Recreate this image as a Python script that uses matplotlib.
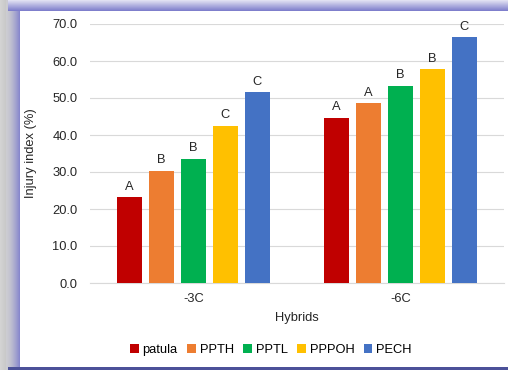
import numpy as np
import matplotlib
matplotlib.use("Agg")
import matplotlib.pyplot as plt

categories = ["-3C", "-6C"]
series = ["patula", "PPTH", "PPTL", "PPPOH", "PECH"]
values = {
    "patula": [23.2, 44.7],
    "PPTH": [30.3, 48.6],
    "PPTL": [33.6, 53.3],
    "PPPOH": [42.5, 57.8],
    "PECH": [51.5, 66.5],
}
letters = {
    "patula": ["A", "A"],
    "PPTH": ["B", "A"],
    "PPTL": ["B", "B"],
    "PPPOH": ["C", "B"],
    "PECH": ["C", "C"],
}
colors = ["#C00000", "#ED7D31", "#00B050", "#FFC000", "#4472C4"]
yticks = [0, 10, 20, 30, 40, 50, 60, 70]

plt.rcParams['font.family'] = ['Liberation Sans', 'DejaVu Sans']
FS = 9.3

W, H = 508, 370
fig = plt.figure(figsize=(W / 100, H / 100), dpi=100)

# background frame image
img = np.ones((H, W, 3)) * 0.80
for c in range(W):
    t = min(c / 10.0, 1.0)
    img[:, c, :] = np.array([0.78, 0.78, 0.78]) * (1 - 0.1 * t) + 0.05
# left purple band
for c in range(6, 20):
    t = ((c - 6) / 14.0) ** 1.5
    base = np.array([0.80, 0.80, 0.82])
    purp = np.array([0.50, 0.50, 0.80])
    img[:, c, :] = base * (1 - t) + purp * t
# top purple band
for r in range(0, 11):
    t = r / 10.0
    top = np.array([0.88, 0.88, 0.95])
    bot = np.array([0.50, 0.50, 0.80])
    img[r, 8:, :] = top * (1 - t) + bot * t
# panel
img[11:367, 20:, :] = 1.0
img[367:, 8:, :] = np.array([0.30, 0.32, 0.60])
bg = fig.add_axes([0, 0, 1, 1])
bg.imshow(img, aspect='auto', interpolation='bilinear')
bg.axis('off')

ax = fig.add_axes([90 / W, 1 - 283 / H, (504 - 90) / W, (283 - 24) / H])
ax.set_facecolor('none')
x = np.arange(len(categories))
width = 0.12
stride = 0.154
n = len(series)
for i, s in enumerate(series):
    pos = x + (i - (n - 1) / 2) * stride
    ax.bar(pos, values[s], width=width, color=colors[i], label=s, zorder=3)
    for xp, v, lt in zip(pos, values[s], letters[s]):
        ax.text(xp, v + 1.2, lt, ha='center', va='bottom', fontsize=FS, color='#262626')

ax.set_xlim(-0.5, 1.5)
ax.set_ylim(0, 70)
ax.set_yticks(yticks)
ax.set_yticklabels([f"{v:.1f}" for v in yticks], fontsize=FS, color='#262626')
ax.set_xticks(x)
ax.set_xticklabels(categories, fontsize=FS, color='#262626')
ax.tick_params(axis='y', length=0, pad=9)
ax.tick_params(axis='x', length=0, pad=7)
ax.grid(axis='y', color='#d9d9d9', linewidth=0.8, zorder=0)
for sp in ['top', 'right', 'left']:
    ax.spines[sp].set_visible(False)
ax.spines['bottom'].set_color('#d9d9d9')
ax.set_xlabel("Hybrids", fontsize=FS, color='#262626', labelpad=5)
ax.set_ylabel("Injury index (%)", fontsize=FS, color='#262626', labelpad=11)

handles, labels = ax.get_legend_handles_labels()
fig.legend(handles, labels, loc='center', bbox_to_anchor=(271 / W, 1 - 350 / H),
           ncol=5, frameon=False, fontsize=FS, handlelength=0.65, handleheight=0.65,
           handletextpad=0.3, columnspacing=0.75, borderaxespad=0)

fig.savefig("out.png", dpi=100)
